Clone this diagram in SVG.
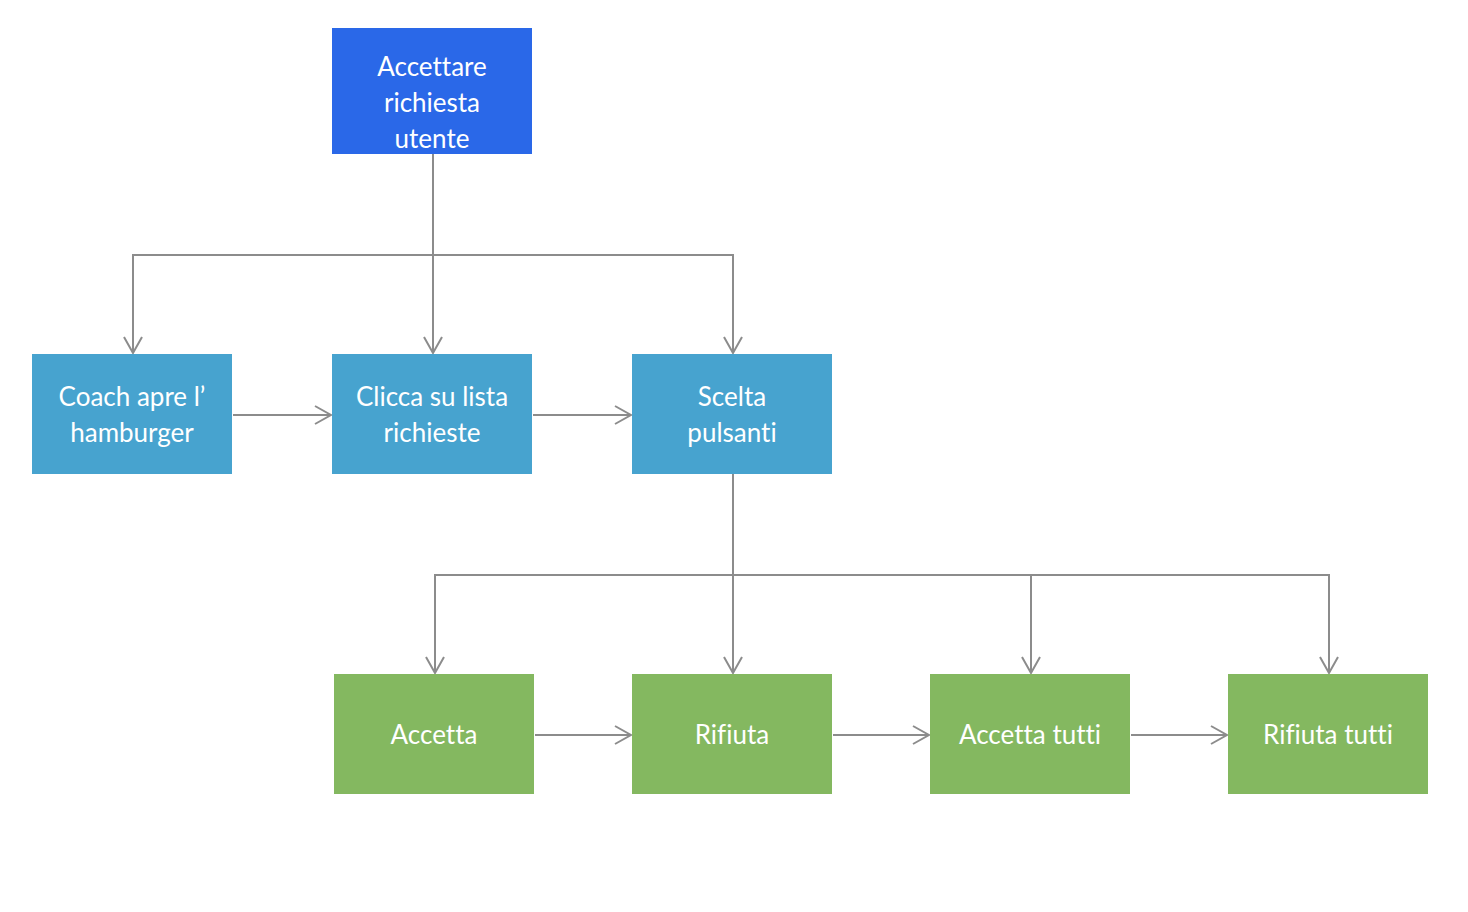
<svg xmlns="http://www.w3.org/2000/svg" width="1468" height="912" viewBox="0 0 1468 912">
<style>
.t{font-family:"Source Sans Pro","Lato","Noto Sans",sans-serif;font-size:26px;fill:#ffffff;text-anchor:middle;font-variant-ligatures:none;font-feature-settings:"liga" 0,"clig" 0}
.c{fill:none;stroke:#8c8c8c;stroke-width:2}
.blue{fill:#2A68E8}
.lb{fill:#47A3CF}
.gr{fill:#84B860}
</style>
<defs>
<marker id="a" markerUnits="userSpaceOnUse" markerWidth="20" markerHeight="22" refX="18" refY="10" orient="auto" viewBox="0 0 20 20">
<path d="M2,1 L18,10 L2,19" fill="none" stroke="#8c8c8c" stroke-width="2"/>
</marker>
</defs>
<rect width="1468" height="912" fill="#ffffff"/>
<g id="connectors">
<path class="c" d="M433,154 V255 H133 V353" marker-end="url(#a)"/>
<path class="c" d="M433,255 V353" marker-end="url(#a)"/>
<path class="c" d="M433,255 H733 V353" marker-end="url(#a)"/>
<path class="c" d="M233,415 H331" marker-end="url(#a)"/>
<path class="c" d="M533,415 H631" marker-end="url(#a)"/>
<path class="c" d="M733,474 V575 H435 V673" marker-end="url(#a)"/>
<path class="c" d="M733,575 V673" marker-end="url(#a)"/>
<path class="c" d="M733,575 H1031 V673" marker-end="url(#a)"/>
<path class="c" d="M1031,575 H1329 V673" marker-end="url(#a)"/>
<path class="c" d="M535,735 H631" marker-end="url(#a)"/>
<path class="c" d="M833,735 H929" marker-end="url(#a)"/>
<path class="c" d="M1131,735 H1227" marker-end="url(#a)"/>
</g>
<g id="n1"><rect class="blue" x="332" y="28" width="200" height="126"/>
<text class="t" x="432" y="76">Accettare</text><text class="t" x="432" y="112">richiesta</text><text class="t" x="432" y="148">utente</text></g>
<g id="n2"><rect class="lb" x="32" y="354" width="200" height="120"/>
<text class="t" x="132" y="406">Coach apre l’</text><text class="t" x="132" y="442">hamburger</text></g>
<g id="n3"><rect class="lb" x="332" y="354" width="200" height="120"/>
<text class="t" x="432" y="406">Clicca su lista</text><text class="t" x="432" y="442">richieste</text></g>
<g id="n4"><rect class="lb" x="632" y="354" width="200" height="120"/>
<text class="t" x="732" y="406">Scelta</text><text class="t" x="732" y="442">pulsanti</text></g>
<g id="n5"><rect class="gr" x="334" y="674" width="200" height="120"/>
<text class="t" x="434" y="744">Accetta</text></g>
<g id="n6"><rect class="gr" x="632" y="674" width="200" height="120"/>
<text class="t" x="732" y="744">Rifiuta</text></g>
<g id="n7"><rect class="gr" x="930" y="674" width="200" height="120"/>
<text class="t" x="1030" y="744">Accetta tutti</text></g>
<g id="n8"><rect class="gr" x="1228" y="674" width="200" height="120"/>
<text class="t" x="1328" y="744">Rifiuta tutti</text></g>
</svg>
